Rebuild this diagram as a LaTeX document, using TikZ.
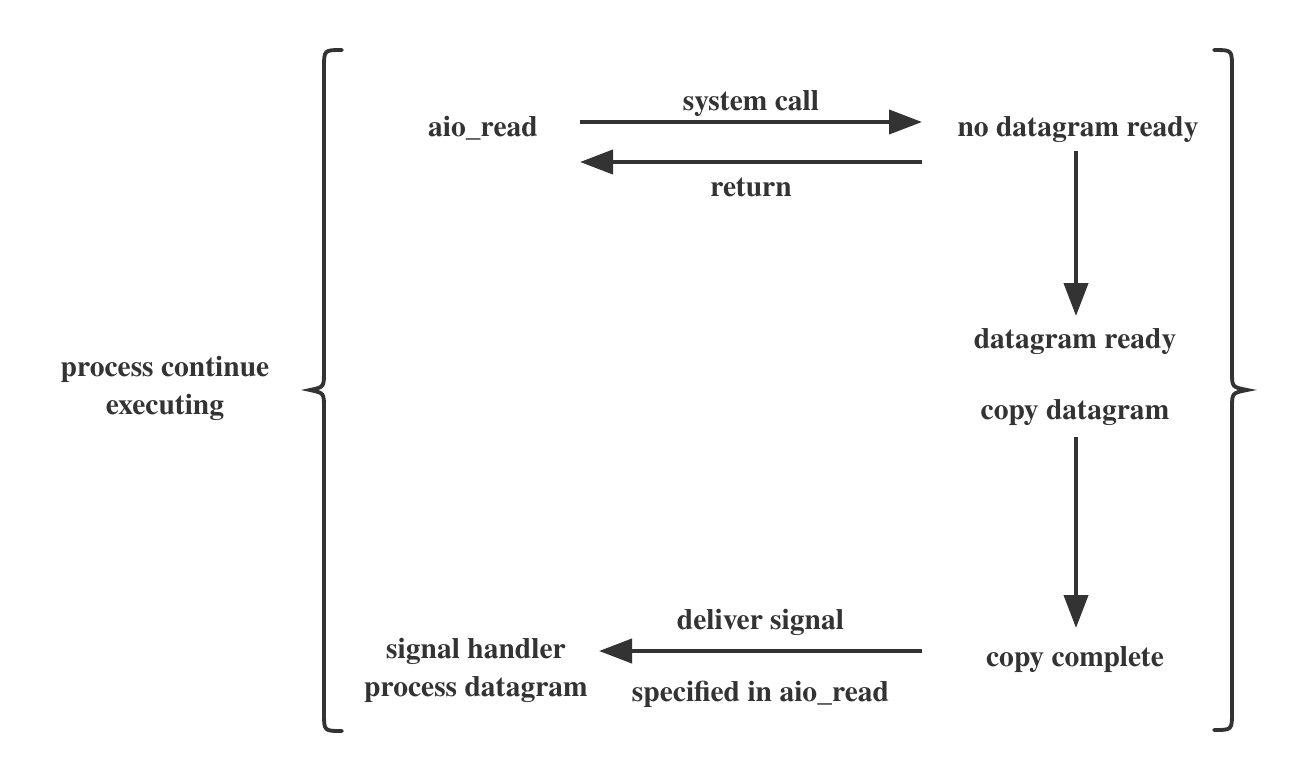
\documentclass[tikz,border=0pt]{standalone}
\usepackage{fontspec}
\setmainfont{texgyretermes-regular.otf}[BoldFont=texgyretermes-bold.otf]
\usepackage{tikz}
\usetikzlibrary{arrows.meta}
\definecolor{ink}{HTML}{333333}
\tikzset{
   txt/.style={font=\fontsize{16.8}{21.6}\selectfont\bfseries, text=ink,
      inner sep=0pt, align=center},
   flow/.style={draw=ink, line width=2.3pt,
      -{Triangle[length=0.66cm, width=0.48cm]}},
   brace/.style={draw=ink, line width=2.2pt, line cap=round},
    }
\begin{document}
\begin{tikzpicture}[x=0.02cm, y=-0.02cm]
            \useasboundingbox (0,0) rectangle (1300,782);
            \node[txt] (aio) at (483,128) {aio\_read};
            \node[txt] (nodr) at (1078,130) {no datagram ready};
            \node[txt] (dgr) at (1075,342) {datagram ready};
            \node[txt] (cpdg) at (1075,413) {copy datagram};
            \node[txt] (cpc) at (1075,660) {copy complete};
            \node[txt] (sigh) at (476,670) {signal handler\\process datagram};
            \node[txt] (proc) at (165,388) {process continue\\executing};
            \coordinate (sc1) at (580,122);
            \coordinate (sc2) at (922,122);
            \coordinate (rt1) at (922,162);
            \coordinate (rt2) at (580,162);
            \coordinate (ds1) at (922,651);
            \coordinate (ds2) at (599,651);
            \draw[flow] (sc1) -- node[txt, above=2pt] (sclbl) {system call} (sc2);
            \draw[flow] (rt1) -- node[txt, below=8pt] (rtlbl) {return} (rt2);
            \draw[flow] (nodr.south -| 1076,0) ++(0,8) -- (1076,316);
            \draw[flow] (1076,437) -- (1076,628);
            \draw[flow] (ds1) -- node[txt, above=7.5pt] (dslbl) {deliver signal}
               node[txt, below=16pt] (splbl) {specified in aio\_read} (ds2);
            \draw[brace] (342,50) .. controls (324,50) .. (324,68) -- (324,372)
               .. controls (324,387) .. (310,390) .. controls (324,393) .. (324,408)
               -- (324,713) .. controls (324,731) .. (342,731);
            \draw[brace] (1214,50) .. controls (1232,50) .. (1232,68) -- (1232,372)
               .. controls (1232,387) .. (1247,390) .. controls (1232,393) .. (1232,408)
               -- (1232,712) .. controls (1232,730) .. (1214,730);
        \end{tikzpicture}
\end{document}
